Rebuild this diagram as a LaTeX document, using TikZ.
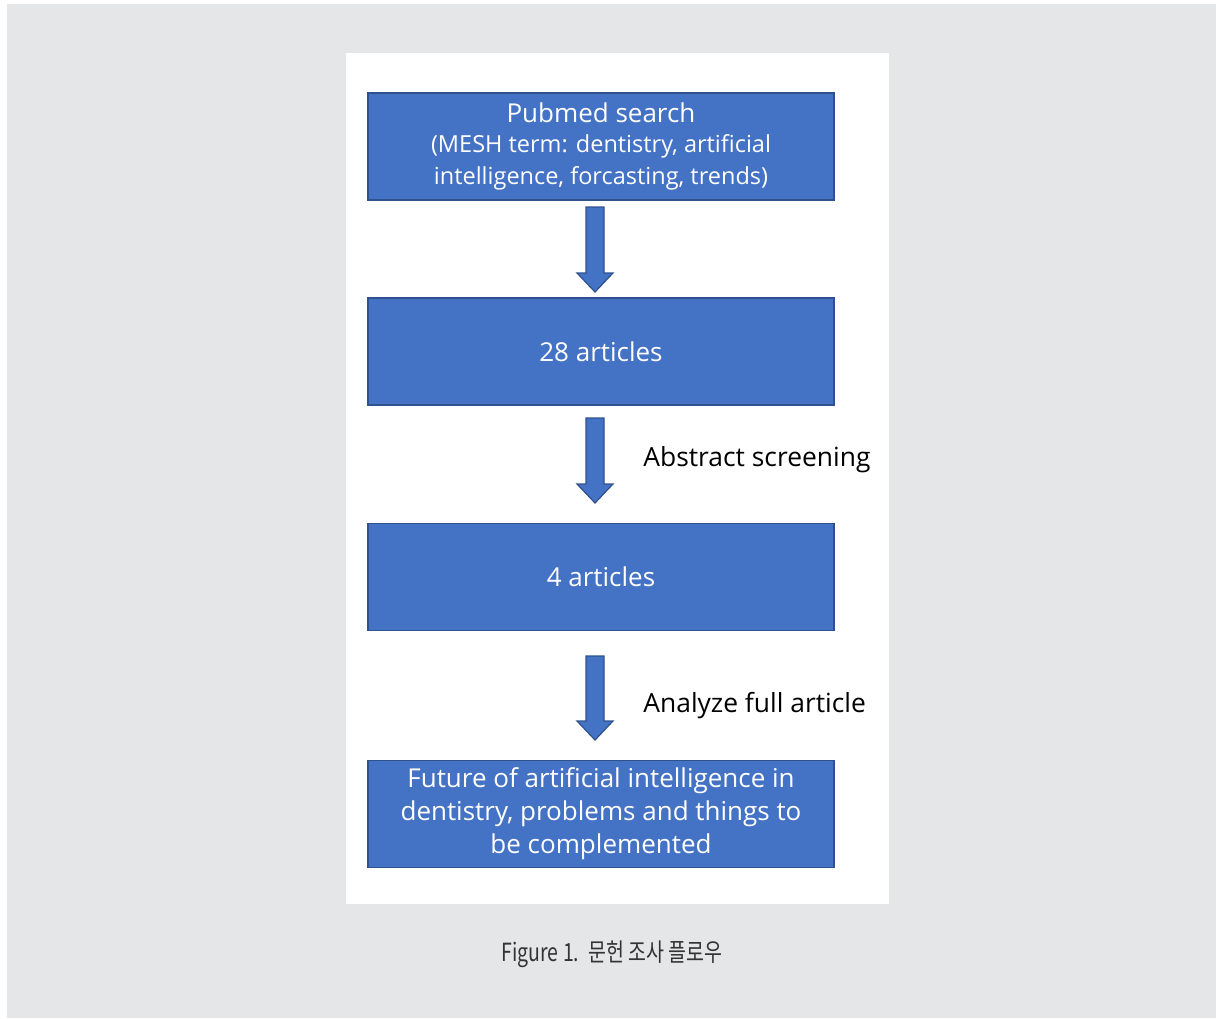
\documentclass[tikz,border=0pt]{standalone}
\usepackage{fontspec}
\setmainfont{Open Sans}
\newfontfamily\krfont{Noto Sans CJK KR}
\usetikzlibrary{calc}
\definecolor{boxblue}{HTML}{4472C4}
\definecolor{boxedge}{HTML}{2F528F}
\definecolor{pagegray}{HTML}{E5E6E8}
\definecolor{captext}{HTML}{333333}
% block arrow from #1 (top of shaft) to #2 (tip)
\newcommand\blockdown[2]{%
\draw[blockarrow] ($(#1)+(-9,0)$) -- ($(#2)+(-9,-19)$) -- ($(#2)+(-18,-19)$) -- (#2)
  -- ($(#2)+(18,-19)$) -- ($(#2)+(9,-19)$) -- ($(#1)+(9,0)$) -- cycle;}

\begin{document}
\begin{tikzpicture}[x=0.5pt,y=-0.5pt]

\tikzset{box/.style = {draw=boxedge, fill=boxblue, text=white, minimum width=233pt, minimum height=53.5pt, align=center, inner sep=0pt, line width=0.6pt, font=\fontsize{13}{16.5}\selectfont}}
\tikzset{blockarrow/.style = {draw=boxedge, fill=boxblue, line width=0.6pt, line join=miter}}
\tikzset{note/.style = {anchor=west, inner sep=0pt, font=\fontsize{13.2}{16}\selectfont}}
%background
\useasboundingbox (0,0) rectangle (1216,1018);
\fill[pagegray] (7,4) rectangle (1216,1018);
\fill[white] (346,53) rectangle (889,904);
%boxes
\node[box] (search) at (601,146.5) {\raisebox{-0.7pt}{Pubmed search}\\[-0.5pt]
  {\fontsize{11.75}{15.5}\selectfont (MESH term: dentistry, artificial}\\[-0.5pt]
  {\fontsize{11.75}{15.5}\selectfont intelligence, forcasting, trends)}};
\node[box] (all) at (601,351.5) {28 articles};
\node[box] (sel) at (601,577) {4 articles};
\node[box] (result) at (601,814) {Future of artificial intelligence in\\dentistry, problems and things to\\be complemented};
%arrows
\coordinate (a1s) at (595,207);
\coordinate (a1e) at (595,292);
\coordinate (a2s) at (595,418);
\coordinate (a2e) at (595,503);
\coordinate (a3s) at (595,656);
\coordinate (a3e) at (595,740);
\blockdown{a1s}{a1e}
\blockdown{a2s}{a2e}
\blockdown{a3s}{a3e}
%labels
\node[note] (screen) at (643,460) {Abstract screening};
\node[note] (full) at (643,706) {Analyze full article};
%caption
\node[font=\krfont\fontsize{12.5}{15}\selectfont, text=captext, inner sep=0pt] (caption) at (612,954) {\scalebox{0.78}[1]{Figure 1.\ \ 문헌 조사 플로우}};

\end{tikzpicture}
\end{document}
